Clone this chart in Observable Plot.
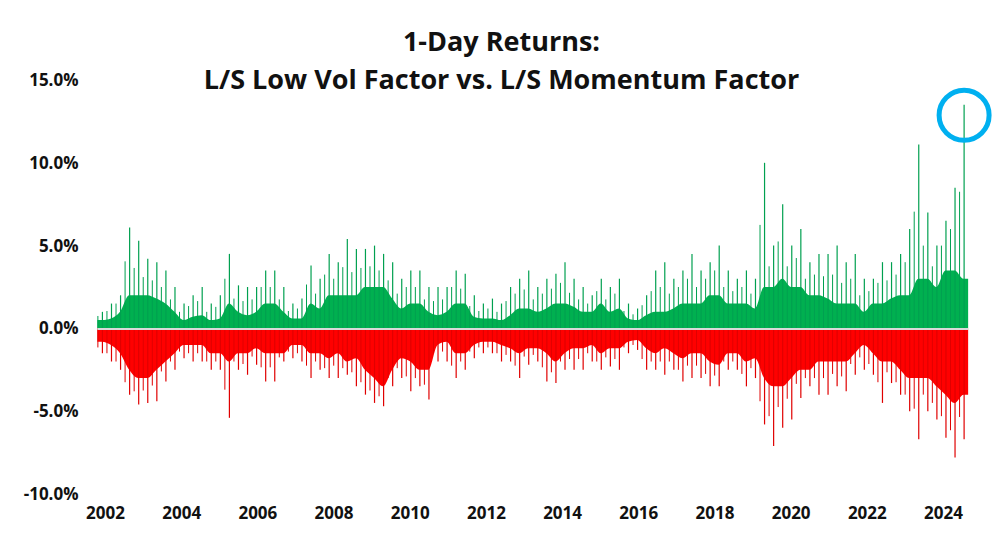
<!DOCTYPE html>
<html><head><meta charset="utf-8">
<script src="https://cdn.jsdelivr.net/npm/d3@7"></script>
<script src="https://cdn.jsdelivr.net/npm/@observablehq/plot@0.6"></script>
<style>
body{margin:0;background:#fff;font-family:"Open Sans",Calibri,sans-serif}
#wrap{position:relative;width:1003px;height:544px}
#title{position:absolute;top:22px;left:0;width:1003px;text-align:center;font-weight:700;font-size:27px;line-height:38px;color:#111}
</style></head><body>
<div id="wrap"><div id="title">1-Day Returns:<br>L/S Low Vol Factor vs. L/S Momentum Factor</div><div id="chart"></div></div>
<script>
// Quarterly envelopes (%), from late 2001 to mid 2025
const posBase=[0.5, 0.6,1.0,2.0,2.0, 2.0,1.8,1.5,1.0, 0.5,0.7,0.8,0.5, 0.6,1.5,1.0,0.8, 1.0,1.5,1.5,1.0, 0.6,0.6,1.5,1.2, 2.0,2.0,2.0,2.0, 2.5,2.5,2.5,1.8, 1.2,1.5,1.5,1.0, 0.8,1.0,1.5,1.5, 0.7,0.6,0.6,0.5, 0.8,1.2,1.2,1.0, 1.2,1.5,1.5,1.3, 1.0,1.0,1.5,1.0, 1.2,0.6,0.5,0.8, 1.0,1.0,1.2,1.5, 1.5,1.5,2.0,2.0, 1.5,1.5,1.5,1.2, 2.5,2.5,3.0,2.5, 2.5,2.0,2.0,1.8, 1.5,1.5,1.5,1.0, 1.5,1.5,1.8,2.0, 2.0,3.0,3.0,2.5, 3.5,3.5,3.0];
const posPeak=[1.0, 1.5,2.0,6.1,5.3, 4.2,4.0,3.5,2.5, 1.5,2.0,2.5,1.5, 2.0,4.5,2.6,2.5, 2.5,3.5,3.5,2.5, 1.5,1.8,3.8,3.0, 4.5,4.0,5.4,4.8, 4.8,5.0,4.5,4.0, 3.0,3.5,3.5,2.5, 2.5,2.5,3.5,3.3, 2.0,1.5,1.8,1.5, 2.5,3.0,3.5,2.5, 3.0,3.3,4.0,3.0, 2.5,2.0,3.0,2.5, 3.0,1.5,1.2,2.0, 3.5,4.0,3.0,3.5, 4.5,3.5,4.0,5.0, 3.5,3.0,3.5,3.0, 10.0,5.0,7.5,5.0, 6.0,4.0,4.5,4.5, 5.0,4.0,4.5,3.0, 3.0,4.0,4.0,4.5, 6.0,11.1,7.0,5.0, 6.5,8.5,13.5];
const negBase=[-0.8, -1.0,-1.5,-2.5,-3.0, -3.0,-2.5,-2.0,-1.5, -1.0,-1.0,-1.0,-1.5, -1.5,-2.0,-1.5,-1.5, -1.2,-1.5,-1.5,-1.5, -1.0,-1.0,-1.5,-1.5, -1.8,-1.5,-2.0,-1.8, -2.5,-3.0,-3.5,-2.5, -1.8,-2.0,-2.5,-2.5, -1.0,-0.8,-1.5,-1.5, -1.0,-0.8,-0.8,-1.0, -1.2,-1.5,-1.2,-1.2, -1.5,-2.0,-1.5,-1.2, -1.2,-1.0,-1.5,-1.2, -1.2,-0.8,-0.7,-1.2, -1.5,-1.2,-1.5,-1.8, -1.5,-1.5,-2.0,-2.2, -1.5,-1.5,-2.0,-1.8, -3.0,-3.5,-3.5,-3.0, -2.5,-2.5,-2.0,-2.0, -2.0,-2.0,-1.5,-1.0, -1.5,-2.0,-2.0,-2.5, -3.0,-3.0,-3.0,-3.5, -4.0,-4.5,-4.0];
const negPeak=[-1.5, -2.0,-2.5,-4.0,-4.6, -4.5,-4.4,-3.2,-2.5, -1.8,-2.0,-2.0,-2.5, -2.5,-5.4,-2.5,-2.8, -2.2,-3.2,-3.2,-2.0, -1.8,-2.0,-3.0,-2.5, -3.0,-3.0,-2.8,-3.5, -4.0,-4.5,-4.7,-3.5, -3.0,-3.8,-3.5,-4.3, -2.0,-2.0,-3.0,-2.5, -1.8,-1.5,-1.5,-2.0, -2.0,-3.0,-2.2,-2.0, -3.2,-3.3,-2.5,-2.5, -2.5,-2.0,-2.5,-2.3, -2.5,-1.5,-1.3,-2.5, -2.5,-2.8,-2.5,-3.2, -3.0,-3.0,-3.5,-3.5, -2.5,-2.5,-3.5,-3.0, -5.8,-7.1,-6.0,-5.5, -4.2,-3.5,-4.0,-4.0, -3.5,-3.8,-2.8,-2.5, -2.8,-4.5,-3.3,-4.0, -5.0,-6.7,-5.0,-5.5, -6.6,-7.8,-6.7];
const yTicks=[-10,-5,0,5,10,15];
const xTicks=[2002,2004,2006,2008,2010,2012,2014,2016,2018,2020,2022,2024];
const startYear=2001.8, endYear=2024.66;

const n=posBase.length, step=(endYear-startYear)/n;
const data=posBase.map((p,i)=>({t:startYear+i*step, tm:startYear+(i+0.5)*step, pb:p, pp:posPeak[i], nb:negBase[i], np:negPeak[i]}));
const areaData=[{...data[0],tm:startYear},...data,{...data[n-1],tm:endYear}];
const last=data[n-1];

const chart=Plot.plot({
  width:1003,height:544,marginTop:80,marginBottom:50,marginLeft:80,marginRight:28,
  style:{fontFamily:"'Open Sans',Calibri,sans-serif",fontSize:"16px",fontWeight:700,color:"#111"},
  x:{type:"linear",domain:[2002,2024],range:[105,943]},
  y:{domain:[-10,15]},
  marks:[
    Plot.areaY(areaData,{x:"tm",y:"pb",curve:"monotone-x",fill:"#00b050"}),
    Plot.areaY(areaData,{x:"tm",y:"nb",curve:"monotone-x",fill:"#ff0000"}),
    Plot.ruleX(data,{x:"tm",y1:0,y2:"pp",stroke:"#00a050",strokeWidth:1.2}),
    Plot.ruleX(data,{x:"t",y1:0,y2:d=>(d.pb+d.pp)/2,stroke:"#00a050",strokeWidth:1}),
    Plot.ruleX(data,{x:"tm",y1:0,y2:"np",stroke:"#e00000",strokeWidth:1.2}),
    Plot.ruleX(data,{x:"t",y1:0,y2:d=>(d.nb+d.np)/2,stroke:"#e00000",strokeWidth:1}),
    Plot.ruleY([0],{x1:startYear,x2:endYear,stroke:"#d9d9d9",strokeWidth:2}),
    Plot.dot([last],{x:"tm",y:d=>d.pp-0.6,r:25,stroke:"#00b0f0",strokeWidth:5,fill:"none"}),
    Plot.axisY(yTicks,{tickSize:0,tickPadding:2,tickFormat:d=>d.toFixed(1)+"%",fontSize:17,fontWeight:700}),
    Plot.axisX(xTicks,{tickSize:0,tickPadding:12,tickFormat:d=>String(d),fontSize:17,fontWeight:700})
  ]
});
document.getElementById("chart").appendChild(chart);
</script></body></html>
